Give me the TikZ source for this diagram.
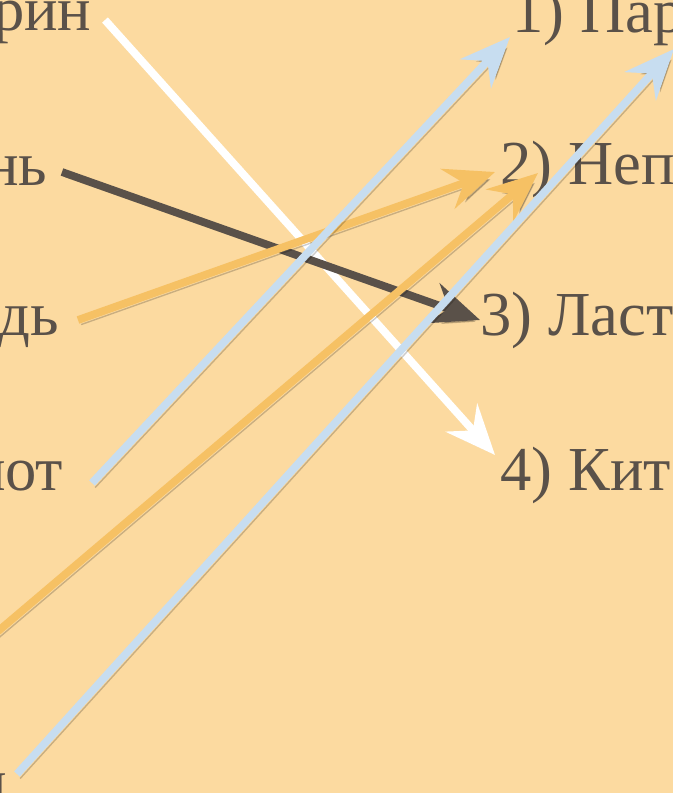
\documentclass[tikz,border=0pt]{standalone}
\usepackage{fontspec}
\setmainfont{Liberation Serif}
\usepackage{xcolor}
\usetikzlibrary{arrows.meta,positioning,calc}
\definecolor{paper}{HTML}{FCDAA0}
\definecolor{ink}{HTML}{5A5149}
\definecolor{skyblue}{HTML}{C7DDF0}
\definecolor{sand}{HTML}{F6C164}

\begin{document}
\begin{tikzpicture}[
  word/.style={text=ink, inner sep=0pt, font=\fontsize{17.8}{21}\selectfont},
  lword/.style={word, anchor=base east},
  rword/.style={word, anchor=base west},
  arr/.style={-{Stealth[length=5mm, width=4.2mm, inset=1.7mm]}, line width=2.2pt,
    preaction={draw=black, opacity=0.2,
      transform canvas={shift={(0.9pt,-1.3pt)}}}}
]
  \useasboundingbox (0,0) rectangle (6.73,-7.93);
  \fill[paper] (0,0) rectangle (6.73,-7.93);
  \clip (0,0) rectangle (6.73,-7.93);

  % left column
  \node[lword] (fin)  at (0.92,-0.30) {фрин};
  \node[lword] (nj)   at (0.48,-1.85) {нь};
  \node[lword] (dj)   at (0.60,-3.35) {дь};
  \node[lword] (not)  at (0.64,-4.90) {нот};
  \node[lword] (last) at (0.08,-8.02) {н};
  \coordinate (hidden) at (-0.30,-6.55);

  % right column
  \node[rword] (par)  at (5.12,-0.32) {1) Пар};
  \node[rword] (nep)  at (5.00,-1.84) {2) Неп};
  \node[rword] (last3) at (4.80,-3.35) {3) Ласт};
  \node[rword] (kit)  at (5.00,-4.90) {4) Кит};

  % answers
  \draw[arr, white] ([shift={(0.13,0.10)}]fin.base east) --
    ([shift={(-0.05,0.35)}]kit.base west);
  \draw[arr, ink] ([shift={(0.14,0.13)}]nj.base east) --
    ([shift={(0,0.15)}]last3.base west);
  \draw[arr, sand] ([shift={(0.18,0.15)}]dj.base east) --
    ([shift={(-0.05,0.12)}]nep.base west);
  \draw[arr, skyblue] ([shift={(0.28,0.07)}]not.base east) --
    ([shift={(-0.02,-0.05)}]par.base west);
  \draw[arr, sand] (hidden) --
    ([shift={(0.38,0.11)}]nep.base west);
  \draw[arr, skyblue] ([shift={(0.09,0.28)}]last.base east) --
    ([shift={(1.62,-0.17)}]par.base west);
\end{tikzpicture}
\end{document}
